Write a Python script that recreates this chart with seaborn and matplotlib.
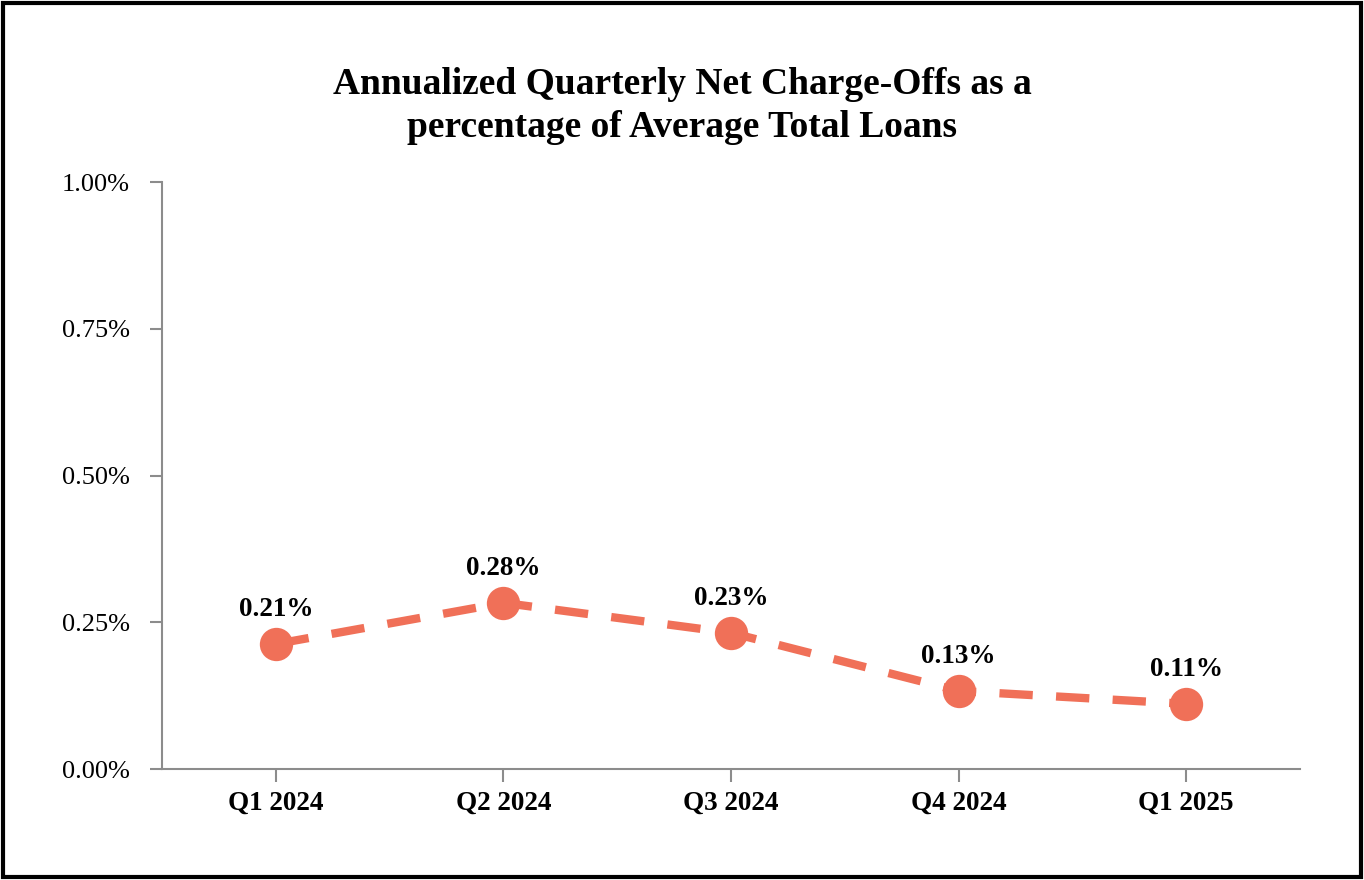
import matplotlib
matplotlib.use("Agg")
import matplotlib.pyplot as plt
import matplotlib.patches as patches
from matplotlib.ticker import FuncFormatter
import seaborn as sns
import pandas as pd

# Datos
trimestres = ["Q1 2024", "Q2 2024", "Q3 2024", "Q4 2024", "Q1 2025"]
valores = [0.213, 0.283, 0.232, 0.133, 0.111]
etiquetas = ["0.21%", "0.28%", "0.23%", "0.13%", "0.11%"]
ticks_y = [0.0, 0.25, 0.50, 0.75, 1.00]

df = pd.DataFrame({"pos": range(len(trimestres)), "valor": valores})

sns.set_style("white")
plt.rcParams["font.family"] = ["Liberation Serif", "DejaVu Serif"]
plt.rcParams["text.color"] = "black"
plt.rcParams["xtick.color"] = "black"
plt.rcParams["ytick.color"] = "black"

color_linea = "#F07058"
gris = "#8c8c8c"

fig = plt.figure(figsize=(13.64, 8.80), dpi=100)
ax = fig.add_axes([162 / 1364, 1 - 769 / 880, (1300 - 162) / 1364, (769 - 182) / 880])

sns.lineplot(data=df, x="pos", y="valor", ax=ax, color=color_linea,
             linewidth=6, marker="o", markersize=24, markeredgewidth=0)
ax.lines[0].set_dashes([4.0, 2.8])

for i, (v, t) in enumerate(zip(valores, etiquetas)):
    ax.annotate(t, (i, v), xytext=(0, 16), textcoords="offset points",
                ha="center", va="bottom", fontsize=19.5, fontweight="bold")

ax.set_xlim(-0.5, len(trimestres) - 0.5)
ax.set_ylim(0, 1.0)
ax.set_xticks(range(len(trimestres)))
ax.set_xticklabels(trimestres, fontsize=19.5, fontweight="bold")
ax.set_yticks(ticks_y)
ax.yaxis.set_major_formatter(FuncFormatter(lambda v, p: f"{v:.2f}%"))
ax.tick_params(axis="y", labelsize=19, length=9, width=1.5, color=gris, labelcolor="black", pad=14, left=True)
ax.tick_params(axis="x", length=9, width=1.5, color=gris, labelcolor="black", pad=7, bottom=True)
ax.set_xlabel("")
ax.set_ylabel("")

for lado in ["top", "right"]:
    ax.spines[lado].set_visible(False)
for lado in ["left", "bottom"]:
    ax.spines[lado].set_color(gris)
    ax.spines[lado].set_linewidth(1.5)

fig.text(0.5, 1 - 106 / 880,
         "Annualized Quarterly Net Charge-Offs as a\npercentage of Average Total Loans",
         ha="center", va="center", fontsize=27, fontweight="bold", linespacing=1.28,
         color="black")

borde = patches.Rectangle((0.002, 0.003), 0.996, 0.994, transform=fig.transFigure,
                          fill=False, edgecolor="black", linewidth=3)
fig.patches.append(borde)

fig.savefig("out.png", dpi=100)
